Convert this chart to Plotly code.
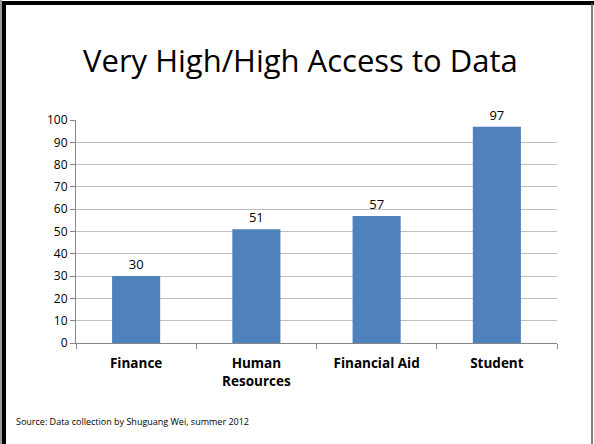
import plotly.graph_objects as go

categories = ["Finance", "Human<br>Resources", "Financial Aid", "Student"]
values = [30, 51, 57, 97]
y_ticks = [0, 10, 20, 30, 40, 50, 60, 70, 80, 90, 100]

W, H = 594, 444
FONT = "Open Sans, Liberation Sans, sans-serif"

def px(x):
    return x / W

def py(y):
    return 1 - y / H

fig = go.Figure()
fig.add_trace(go.Bar(
    x=categories, y=values, width=0.4,
    marker=dict(color="#4F81BD", line=dict(width=0)),
    text=[str(v) for v in values], textposition="outside",
    textfont=dict(family=FONT, size=13, color="#000"),
    cliponaxis=False,
))

fig.update_layout(
    width=W, height=H, autosize=False,
    margin=dict(l=0, r=0, t=0, b=0, pad=0, autoexpand=False),
    paper_bgcolor="white", plot_bgcolor="white",
    showlegend=False,
    xaxis=dict(
        domain=[px(76), px(557)], automargin=False,
        showline=True, linecolor="#868686", linewidth=1,
        ticks="outside", tickson="boundaries", ticklen=5, tickcolor="#868686",
        ticklabelstandoff=8,
        tickfont=dict(family=FONT, size=13.5, color="#000", weight="bold"),
        showgrid=False,
    ),
    yaxis=dict(
        domain=[py(343), py(120)], automargin=False,
        range=[0, 100], tickvals=y_ticks,
        showline=True, linecolor="#868686", linewidth=1,
        ticks="outside", ticklen=5, tickcolor="#868686",
        tickfont=dict(family=FONT, size=12, color="#000"),
        showgrid=True, gridcolor="#BFBFBF", gridwidth=1,
        zeroline=False,
    ),
    font=dict(family=FONT),
)

fig.add_annotation(
    text="Very High/High Access to Data", x=px(300), y=py(60), xref="paper", yref="paper",
    showarrow=False, font=dict(family=FONT, size=31, color="#000"),
    xanchor="center", yanchor="middle",
)
fig.add_annotation(
    text="Source: Data collection by Shuguang Wei, summer 2012", x=px(14), y=py(421),
    xref="paper", yref="paper", showarrow=False, xanchor="left", yanchor="middle",
    font=dict(family=FONT, size=9, color="#000"),
)
# slide border
fig.add_shape(type="line", xref="paper", yref="paper",
              x0=px(1), x1=px(1), y0=py(0), y1=py(444), line=dict(color="#9a9a9a", width=2))
fig.add_shape(type="line", xref="paper", yref="paper",
              x0=px(4), x1=px(4), y0=py(1), y1=py(444), line=dict(color="#000", width=4))
fig.add_shape(type="line", xref="paper", yref="paper",
              x0=px(2), x1=px(594), y0=py(3), y1=py(3), line=dict(color="#000", width=4))
fig.add_shape(type="line", xref="paper", yref="paper",
              x0=px(592), x1=px(592), y0=py(3), y1=py(444), line=dict(color="#555", width=1.5))

fig.write_html(
    "out.html",
    config={"displayModeBar": False},
    post_script="document.body.style.margin='0';document.body.style.overflow='hidden';",
)
